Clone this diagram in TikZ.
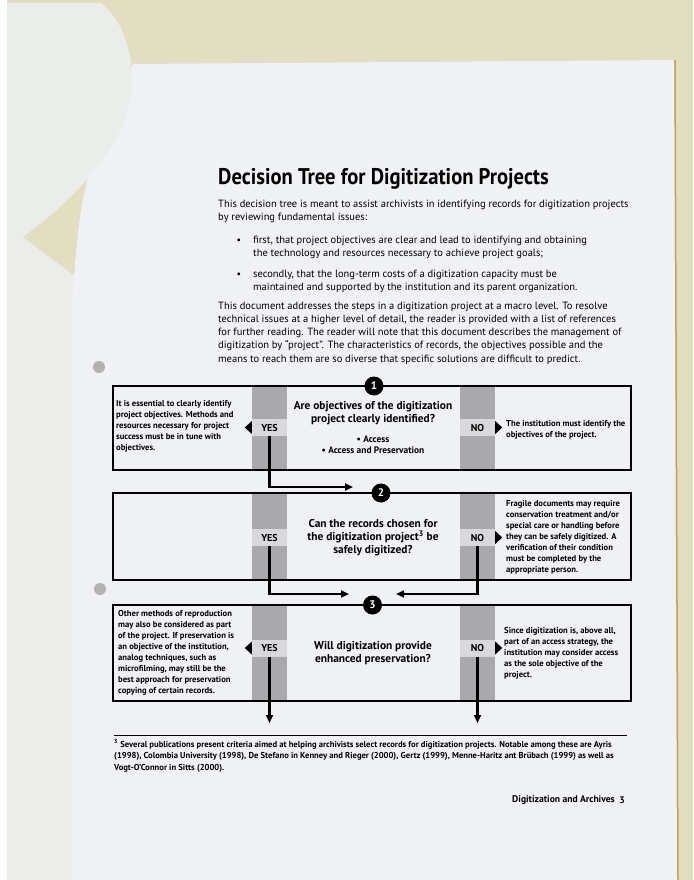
\documentclass[tikz,border=0pt]{standalone}
\usepackage{fontspec}
\setmainfont{PT Sans}
\usepackage{graphicx}
\usetikzlibrary{arrows.meta,positioning,calc}
\definecolor{bgbeige}{HTML}{E2DEC2}
\definecolor{sheet}{HTML}{F0F1F5}
\definecolor{undersheet}{HTML}{ECEDE9}
\definecolor{curl}{HTML}{EBEDEA}
\definecolor{colgray}{HTML}{A9A9AD}
\definecolor{bandgray}{HTML}{D9D9DD}
\definecolor{edgegold}{HTML}{C4A25C}

\begin{document}
\begin{tikzpicture}[x=1pt,y=-1pt,
  every node/.style={inner sep=0pt},
  txt/.style={anchor=north west,align=left,font=\fontsize{10.5}{13.1}\selectfont},
  side/.style={anchor=north west,align=left,font=\fontsize{8.6}{11}\selectfont\bfseries},
  quest/.style={align=center,font=\fontsize{11.4}{12.9}\selectfont\bfseries},
  lbl/.style={fill=bandgray,minimum width=35pt,minimum height=17pt,font=\fontsize{10}{10}\selectfont\bfseries},
  num/.style={circle,fill=black,text=white,minimum size=19pt,font=\fontsize{11}{11}\selectfont\bfseries},
  box/.style={draw=black,line width=1.3pt},
  flow/.style={line width=2.2pt,-{Triangle[length=8pt,width=7pt]}}]
\useasboundingbox (0,0) rectangle (693,880);

% photo background
\fill[bgbeige] (0,0) rectangle (693,880);
\fill[undersheet] (0,220) -- (80,280) -- (80,880) -- (0,880) -- cycle;
\fill[white] (0,0) rectangle (7,880);
\fill[sheet] (133,64) -- (674,60) -- (677,880) -- (72,880) -- (72,300) .. controls (82,180) .. (133,64) -- cycle;
\draw[edgegold,line width=1.5pt] (675,60) -- (678,880);
\fill[curl] (7,3) -- (100,3) .. controls (125,20) and (135,60) .. (131,95) .. controls (125,150) and (60,215) .. (7,247) -- cycle;
\fill[gray!60] (99,367) circle (6);
\fill[gray!60] (100,589) circle (6);

% title and introduction
\node[anchor=base west,font=\fontsize{21}{21}\selectfont\bfseries] (title) at (218,184)
  {\scalebox{0.98}[1.08]{Decision Tree for Digitization Projects}};
\node[txt] (intro) at (218,200) {This decision tree is meant to assist archivists in identifying records for digitization projects\\by reviewing fundamental issues:};
\node (dot1) at (239,241) {\textbullet};
\node[txt] (item1) at (253,236) {first, that project objectives are clear and lead to identifying and obtaining\\the technology and resources necessary to achieve project goals;};
\node (dot2) at (239,275) {\textbullet};
\node[txt] (item2) at (253,270) {secondly, that the long-term costs of a digitization capacity must be\\maintained and supported by the institution and its parent organization.};
\node[txt] (scope) at (218,302) {This document addresses the steps in a digitization project at a macro level. To resolve\\technical issues at a higher level of detail, the reader is provided with a list of references\\for further reading. The reader will note that this document describes the management of\\digitization by ``project''. The characteristics of records, the objectives possible and the\\means to reach them are so diverse that specific solutions are difficult to predict.};

% decision boxes
\foreach \t/\b in {386/470,493/580,605/701}{
  \fill[colgray] (252,\t) rectangle (287,\b);
  \fill[colgray] (460,\t) rectangle (495,\b);
  \draw[box] (113,\t) rectangle (631,\b);
}

\node[lbl] (yes1) at (269.5,427.5) {YES};
\node[lbl] (no1) at (477.5,427.5) {NO};
\node[lbl] (yes2) at (269.5,537.5) {YES};
\node[lbl] (no2) at (477.5,537.5) {NO};
\node[lbl] (yes3) at (269.5,648) {YES};
\node[lbl] (no3) at (477.5,648) {NO};

\foreach \n in {yes1,yes3}
  \fill (\n.west) ++(0,-6.5) -- ++(0,13) -- ++(-7,-6.5) -- cycle;
\foreach \n in {no1,no2,no3}
  \fill (\n.east) ++(0,-6.5) -- ++(0,13) -- ++(7,-6.5) -- cycle;

\node[quest] (q1) at (373,413.5) {Are objectives of the digitization\\project clearly identified?};
\node[align=center,font=\fontsize{9.4}{11}\selectfont\bfseries] (aims) at (373,444.5) {\textbullet\ Access\\\textbullet\ Access and Preservation};
\node[quest] (q2) at (373,537.8) {Can the records chosen for\\the digitization project\textsuperscript{3} be\\safely digitized?};
\node[quest] (q3) at (373,653.5) {Will digitization provide\\enhanced preservation?};

\node[side] (yes1txt) at (116,400) {It is essential to clearly identify\\project objectives. Methods and\\resources necessary for project\\success must be in tune with\\objectives.};
\node[side] (no1txt) at (506,419.7) {The institution must identify the\\objectives of the project.};
\node[side] (no2txt) at (506,500) {Fragile documents may require\\conservation treatment and/or\\special care or handling before\\they can be safely digitized. A\\verification of their condition\\must be completed by the\\appropriate person.};
\node[side] (yes3txt) at (118,610) {Other methods of reproduction\\may also be considered as part\\of the project. If preservation is\\an objective of the institution,\\analog techniques, such as\\microfilming, may still be the\\best approach for preservation\\copying of certain records.};
\node[side] (no3txt) at (504,626.8) {Since digitization is, above all,\\part of an access strategy, the\\institution may consider access\\as the sole objective of the\\project.};

% flow between steps
\coordinate (in2) at (353,487);
\coordinate (in3l) at (349,594);
\coordinate (in3r) at (396,594);
\coordinate (out3l) at (269.5,723);
\coordinate (out3r) at (477.5,723);
\draw[flow] (yes1.south) |- (in2);
\draw[flow] (yes2.south) |- (in3l);
\draw[flow] (no2.south) |- (in3r);
\draw[flow] (yes3.south) -- (out3l);
\draw[flow] (no3.south) -- (out3r);

\node[num] (n1) at (374,386) {1};
\node[num] (n2) at (381,493) {2};
\node[num] (n3) at (372.5,605) {3};

% footnote and page foot
\draw[line width=0.9pt] (114,735) -- (627,735);
\node[anchor=north west,align=left,font=\fontsize{8.6}{11.5}\selectfont\bfseries] (note) at (114,739) {\textsuperscript{3} Several publications present criteria aimed at helping archivists select records for digitization projects. Notable among these are Ayris\\(1998), Colombia University (1998), De Stefano in Kenney and Rieger (2000), Gertz (1999), Menne-Haritz ant Brübach (1999) as well as\\Vogt-O'Connor in Sitts (2000).};
\node[anchor=west,font=\fontsize{9.6}{9.6}\selectfont\bfseries] (folio) at (512,800) {Digitization and Archives};
\node[font=\fontsize{9.6}{9.6}\selectfont\bfseries] (pageno) at (622,800) {3};
\end{tikzpicture}
\end{document}
